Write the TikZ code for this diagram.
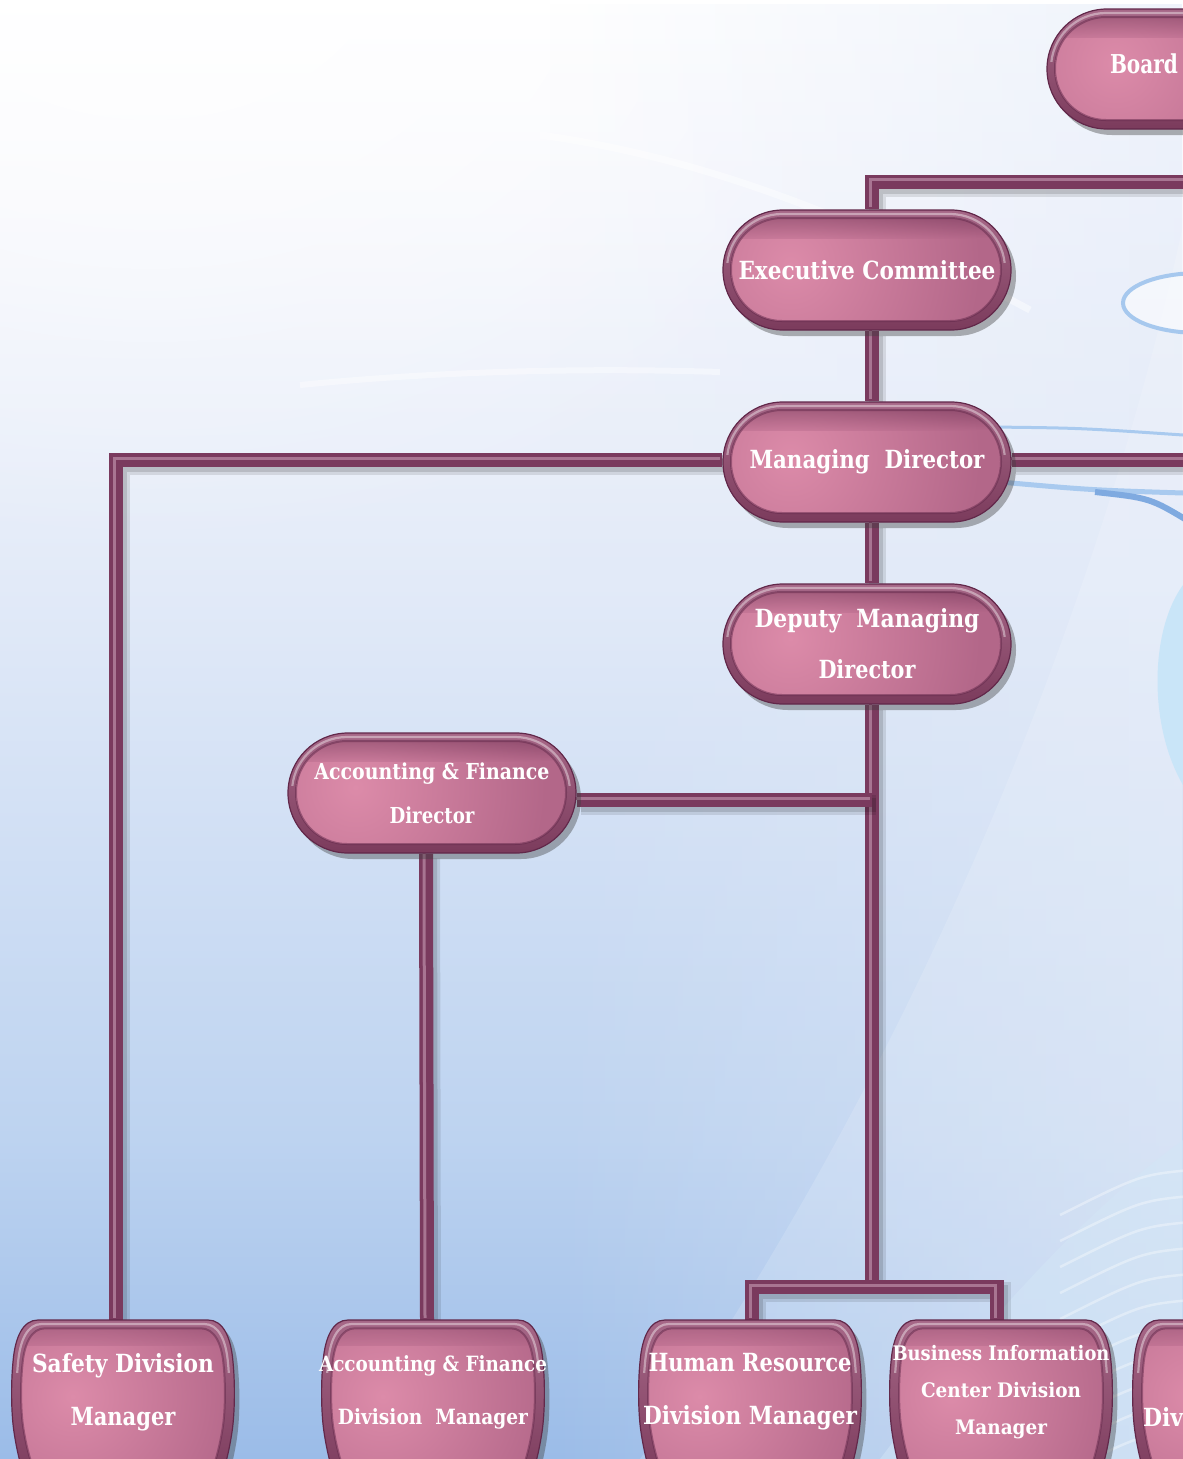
\documentclass[tikz,border=0pt]{standalone}
\usepackage{fontspec}
\usepackage{graphicx}
\newfontfamily\slab{DejaVu Serif}
\usetikzlibrary{calc,shadows,fadings}
\definecolor{bgT}{HTML}{F7F8FD}
\definecolor{bgM}{HTML}{E2EAF8}
\definecolor{bgQ}{HTML}{BDD3F0}
\definecolor{bgB}{HTML}{9BBCE8}
\definecolor{pinkL}{HTML}{DC8BA9}
\definecolor{pinkM}{HTML}{B36789}
\definecolor{rimT}{HTML}{A66787}
\definecolor{rimB}{HTML}{7B3B5C}
\definecolor{rimD}{HTML}{62284A}
\definecolor{pipeC}{HTML}{7A3A5E}
\definecolor{pipeL}{HTML}{A87592}
\definecolor{ringB}{HTML}{A6C8EE}
\definecolor{cyanL}{HTML}{C9E5F8}
\definecolor{bandC}{HTML}{D3E6F6}
\definecolor{lineB}{HTML}{A9CAEF}
\definecolor{lineD}{HTML}{7FAAE0}
\newcommand{\fw}[2]{\resizebox{#1}{\height}{#2}}
\newcommand{\barrel}[1]{\path[#1] (-85,-72) -- (85,-72) .. controls (100,-72) and (108,-55) .. (110,-30) .. controls (112,-10) and (112,20) .. (109,40) .. controls (106,60) and (102,75) .. (97,90) -- (-97,90) .. controls (-102,75) and (-106,60) .. (-109,40) .. controls (-112,20) and (-112,-10) .. (-110,-30) .. controls (-108,-55) and (-100,-72) .. (-85,-72) -- cycle;}
\newcommand{\barrelart}[1]{%
  \begin{scope}[shift={(#1.center)}]
    \barrel{draw=rimD, line width=1.2pt, top color=rimT, bottom color=rimB,
      drop shadow={shadow xshift=5pt, shadow yshift=-6pt, opacity=0.4, fill=black!75}}
    \begin{scope}[xscale=0.915, yscale=0.885]
      \begin{scope}
        \barrel{clip}
        \fill[pinkM] (-120,-90) rectangle (120,95);
        \shade[inner color=pinkL, outer color=pinkM] (-55,5) circle (190);
        \shade[top color=rimD, bottom color=pinkM, opacity=0.4] (-120,-90) rectangle (120,-52);
      \end{scope}
      \barrel{draw=rimD, line width=2pt, opacity=0.5}
    \end{scope}
    \begin{scope}
      \clip (-120,-90) rectangle (120,-20);
      \begin{scope}[xscale=0.955, yscale=0.945]
        \barrel{draw=white, opacity=0.4, line width=2.2pt}
      \end{scope}
    \end{scope}
  \end{scope}}
\pgfdeclareverticalshading{bgshade}{100bp}{color(0bp)=(bgB); color(25bp)=(bgB); color(36bp)=(bgQ); color(55bp)=(bgM); color(68bp)=(bgT); color(75bp)=(white); color(100bp)=(white)}
\tikzfading[name=fadeinright, left color=transparent!100, right color=transparent!0]
\tikzfading[name=softglow, inner color=transparent!0, outer color=transparent!100]
\pgfdeclarelayer{back}
\pgfdeclarelayer{conn}
\pgfdeclarelayer{shapes}
\pgfsetlayers{back,conn,shapes,main}
\tikzset{
  bodyart/.style 2 args={path picture={
    \coordinate (ia) at ($(path picture bounding box.south west)+(8pt,9pt)$);
    \coordinate (ib) at ($(path picture bounding box.north east)+(-10pt,-8pt)$);
    \path let \p1=(ia), \p2=(ib) in
      coordinate (gl) at ({\x1+0.22*(\x2-\x1)},{\y1+0.55*(\y2-\y1)});
    \begin{scope}
      \clip[rounded corners=#1] (ia) rectangle (ib);
      \fill[pinkM, sharp corners] (ia) rectangle (ib);
      \shade[inner color=pinkL, outer color=pinkM] (gl) circle (190pt);
      \shade[sharp corners, top color=rimD, bottom color=pinkM, opacity=0.4]
        (ia |- ib) rectangle ($(ib)+(0,-20pt)$);
    \end{scope}
    \draw[rounded corners=#1, draw=rimD, line width=2pt, opacity=0.5] (ia) rectangle (ib);
    \begin{scope}
      \clip[sharp corners] (path picture bounding box.north west) rectangle ($(path picture bounding box.east)+(0,8pt)$);
      \draw[rounded corners=#2, white, opacity=0.4, line width=2.2pt]
        ($(ia)+(-4pt,-4pt)$) rectangle ($(ib)+(4pt,4pt)$);
    \end{scope}
  }},
  card/.style={rectangle, inner sep=0pt, draw=rimD, line width=1.2pt,
    top color=rimT, bottom color=rimB, text=white, align=center,
    drop shadow={shadow xshift=5pt, shadow yshift=-6pt, opacity=0.4, fill=black!75}},
  pill/.style={card, rounded corners=60pt, minimum width=288pt, minimum height=120pt,
    font=\slab\bfseries\fontsize{25}{51}\selectfont, bodyart={51pt}{55pt}},
  boxtext/.style={rectangle, inner sep=0pt, minimum width=222pt, minimum height=144pt,
    text=white, align=center, font=\slab\bfseries\fontsize{25}{53}\selectfont},
  txt/.style={text=white, inner sep=0pt, font=\slab\bfseries\fontsize{25}{30}\selectfont},
  pipe/.style={draw=pipeC, line width=14pt, line join=miter,
    preaction={draw=black, opacity=0.10, line width=20pt, transform canvas={xshift=4pt,yshift=-5pt}},
    preaction={draw=black, opacity=0.12, line width=14pt, transform canvas={xshift=4pt,yshift=-5pt}},
    postaction={draw=pipeL, line width=3pt, transform canvas={xshift=-2pt,yshift=2pt}}}
}
\begin{document}
\begin{tikzpicture}[x=1pt,y=-1pt]
\useasboundingbox (0,0) rectangle (1183,1459);
% ---------------- background
\begin{pgfonlayer}{back}
  \clip (0,0) rectangle (1183,1459);
  \shade[shading=bgshade] (0,0) rectangle (1183,1459);
  \fill[white, opacity=0.7, path fading=softglow] (150,-60) ellipse (820 and 620);
  \fill[bgM, opacity=0.55, path fading=fadeinright] (550,0) rectangle (1183,1459);
  \fill[white, opacity=0.15] (1183,225) .. controls (1120,520) and (960,1000) .. (640,1459) -- (1183,1459) -- cycle;
  \fill[bandC, opacity=0.5] (1183,1140) .. controls (1100,1200) and (1000,1300) .. (880,1459) -- (1183,1459) -- cycle;
  \foreach \k in {0,...,10}
    \draw[white, opacity=0.35, line width=2.5pt] (1190,1170+26*\k) .. controls (1140,1175+26*\k) .. (1060,1215+26*\k);
  \fill[cyanL] (1183,585) .. controls (1150,630) and (1148,725) .. (1183,785) -- cycle;
  \draw[ringB, line width=4pt, fill=white, fill opacity=0.5] (1200,303) ellipse (77 and 30);
  \draw[lineB, line width=3pt] (990,427) .. controls (1080,428) .. (1183,435);
  \draw[lineB, line width=5pt] (1000,482) .. controls (1090,490) .. (1183,493);
  \draw[lineD, line width=6pt] (1095,492) .. controls (1150,498) .. (1190,522);
  \draw[white, opacity=0.45, line width=7pt] (540,135) .. controls (720,160) and (880,230) .. (1030,310);
  \draw[white, opacity=0.4, line width=6pt] (300,385) .. controls (450,370) and (600,368) .. (720,372);
\end{pgfonlayer}
\clip (0,0) rectangle (1183,1459);
% ---------------- nodes
\node[pill, minimum width=292pt] (board) at (1193,69) {};
\node[txt, font=\slab\bfseries\fontsize{26}{30}\selectfont] (boardtxt) at (1144,64) {\fw{68pt}{Board}};
\node[pill] (exec) at (867,270) {\fw{257pt}{Executive Committee}};
\node[pill] (md) at (867,462) {\fw{235pt}{Managing~~Director}};
\node[pill] (dep) at (867,644) {\fw{225pt}{Deputy~~Managing}\\\fw{97pt}{Director}};
\node[pill, font=\slab\bfseries\fontsize{22}{44}\selectfont] (afd) at (432,793) {\fw{235pt}{Accounting \& Finance}\\\fw{85pt}{Director}};
\node[boxtext] (safety) at (123,1392) {\fw{182pt}{Safety Division}\\\fw{105pt}{Manager}};
\node[boxtext, font=\slab\bfseries\fontsize{21}{53}\selectfont] (afdiv) at (433,1392) {\fw{228pt}{Accounting \& Finance}\\\fw{190pt}{Division~~Manager}};
\node[boxtext] (hr) at (750,1392) {\fw{203pt}{Human Resource}\\\fw{214pt}{Division Manager}};
\node[boxtext, font=\slab\bfseries\fontsize{20}{37}\selectfont] (bic) at (1001,1392) {\fw{217pt}{Business Information}\\\fw{160pt}{Center Division}\\\fw{92pt}{Manager}};
\node[boxtext] (divx) at (1244,1392) {};
\node[txt, anchor=west] (divtxt) at (1143,1417) {\fw{40pt}{Div}};
% ---------------- barrel shapes of the bottom row
\begin{pgfonlayer}{shapes}
  \clip (0,0) rectangle (1183,1459);
  \barrelart{safety}
  \barrelart{afdiv}
  \barrelart{hr}
  \barrelart{bic}
  \barrelart{divx}
\end{pgfonlayer}
% ---------------- connectors
\begin{pgfonlayer}{conn}
  \clip (0,0) rectangle (1183,1459);
  \coordinate (mdR) at (1200,460);
  \coordinate (jb) at (872,1287);
  \draw[pipe] (board.south) -- ++(0,52) -| ([xshift=5pt]exec.north);
  \draw[pipe] ([xshift=5pt]exec.south) -- ([xshift=5pt]md.north);
  \draw[pipe] ([xshift=5pt]md.south) -- ([xshift=5pt]dep.north);
  \draw[pipe] ([yshift=2pt]md.west) -| ([xshift=-7pt]safety.north);
  \draw[pipe] ([yshift=2pt]md.east) -- (mdR);
  \draw[pipe] ([xshift=5pt]dep.south) -- (jb);
  \draw[pipe] ([yshift=-7pt]afd.east) -- ([yshift=-7pt]afd.east -| jb);
  \draw[pipe] ([xshift=-6pt]afd.south) -- ([xshift=-6pt]afdiv.north);
  \draw[pipe] ([xshift=2pt]hr.north) |- (jb) -| ([xshift=-4pt]bic.north);
\end{pgfonlayer}
\end{tikzpicture}
\end{document}
